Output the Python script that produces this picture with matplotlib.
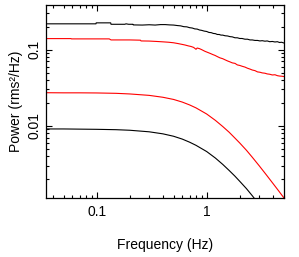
import matplotlib
matplotlib.use("Agg")
import matplotlib.pyplot as plt
from matplotlib.ticker import LogLocator, NullFormatter, FixedLocator, FixedFormatter

plt.rcParams['font.family'] = ['Liberation Sans', 'DejaVu Sans']

# noisy black PSD
f_black_noisy = [0.0346, 0.0985, 0.099, 0.134, 0.135, 0.18, 0.185, 0.195, 0.214, 0.215,
                 0.26, 0.30, 0.34, 0.38, 0.42, 0.46, 0.50, 0.54, 0.58, 0.62,
                 0.66, 0.70, 0.74, 0.78, 0.82, 0.86, 0.90, 0.95, 1.00, 1.05,
                 1.10, 1.15, 1.20, 1.25, 1.30, 1.35, 1.40, 1.47, 1.55, 1.63,
                 1.71, 1.81, 1.90, 2.00, 2.10, 2.23, 2.35, 2.48, 2.60, 2.75,
                 2.90, 3.05, 3.20, 3.39, 3.55, 3.75, 3.95, 4.18, 4.40, 4.60,
                 4.80, 5.05]
p_black_noisy = [0.218, 0.218, 0.2245, 0.2245, 0.215, 0.215, 0.218, 0.215, 0.215, 0.211,
                 0.210, 0.212, 0.210, 0.213, 0.213, 0.211, 0.210, 0.207, 0.205, 0.200,
                 0.199, 0.194, 0.192, 0.187, 0.186, 0.181, 0.179, 0.175, 0.173, 0.168,
                 0.167, 0.163, 0.162, 0.158, 0.158, 0.155, 0.155, 0.152, 0.151, 0.148,
                 0.147, 0.143, 0.143, 0.140, 0.140, 0.137, 0.137, 0.134, 0.134, 0.132,
                 0.132, 0.130, 0.131, 0.129, 0.130, 0.127, 0.128, 0.126, 0.127, 0.124,
                 0.125, 0.122]

# noisy red PSD
f_red_noisy = [0.0346, 0.0584, 0.059, 0.13, 0.135, 0.20, 0.25, 0.253, 0.30, 0.35,
               0.40, 0.45, 0.50, 0.55, 0.60, 0.635, 0.68, 0.72, 0.76, 0.78,
               0.80, 0.82, 0.86, 0.90, 0.965, 1.02, 1.08, 1.14, 1.19, 1.25,
               1.32, 1.40, 1.47, 1.55, 1.63, 1.71, 1.81, 1.90, 2.00, 2.10,
               2.23, 2.35, 2.48, 2.60, 2.75, 2.90, 3.05, 3.20, 3.39, 3.55,
               3.75, 3.95, 4.18, 4.40, 4.60, 4.80, 5.05]
p_red_noisy = [0.1395, 0.1395, 0.1383, 0.1383, 0.134, 0.134, 0.133, 0.130, 0.1295, 0.128,
               0.1265, 0.125, 0.123, 0.120, 0.117, 0.115, 0.112, 0.110, 0.107, 0.104,
               0.101, 0.105, 0.103, 0.100, 0.095, 0.092, 0.089, 0.086, 0.084, 0.081,
               0.078, 0.076, 0.0735, 0.071, 0.069, 0.067, 0.066, 0.063, 0.062, 0.0605,
               0.059, 0.057, 0.0555, 0.054, 0.053, 0.051, 0.0505, 0.0495, 0.049, 0.048,
               0.0475, 0.0465, 0.0468, 0.0455, 0.045, 0.0448, 0.0443]

# smooth model curves
f_model = [0.0346, 0.05, 0.07, 0.1, 0.15, 0.2, 0.3, 0.4, 0.5, 0.6,
           0.7, 0.8, 1.0, 1.2, 1.4, 1.6, 1.8, 2.0, 2.3, 2.6,
           3.0, 3.5, 4.0, 4.5, 5.05]
p_red_model = [0.0272, 0.0271, 0.0271, 0.0270, 0.0267, 0.0262, 0.0251, 0.0237, 0.0222, 0.0205,
               0.0188, 0.0172, 0.0143, 0.0118, 0.0098, 0.00825, 0.00695, 0.00595, 0.00478, 0.00387,
               0.00300, 0.00226, 0.00176, 0.00141, 0.00113]
p_black_model = [0.0091, 0.0091, 0.00905, 0.0090, 0.0089, 0.00875, 0.00835, 0.00785, 0.0073, 0.0067,
                 0.0061, 0.00555, 0.00460, 0.00378, 0.00312, 0.00260, 0.00220, 0.00187, 0.00150, 0.00121,
                 0.00093, 0.00069, 0.00053, 0.00042, 0.00034]

x_ticks = [0.1, 1]
x_labels = ["0.1", "1"]
y_ticks = [0.01, 0.1]
y_labels = ["0.01", "0.1"]

fig = plt.figure(figsize=(2.99, 2.57), dpi=100)
ax = fig.add_axes([46/299, 1-198/257, (284-46)/299, (198-5)/257])

ax.plot(f_black_noisy, p_black_noisy, color='black', lw=0.8)
ax.plot(f_red_noisy, p_red_noisy, color='#ff0000', lw=0.8)
ax.plot(f_model, p_red_model, color='#ff0000', lw=0.8)
ax.plot(f_model, p_black_model, color='black', lw=0.8)

ax.set_xscale('log')
ax.set_yscale('log')
ax.set_xlim(0.0346, 5.05)
ax.set_ylim(0.00113, 0.385)

ax.xaxis.set_major_locator(FixedLocator(x_ticks))
ax.xaxis.set_major_formatter(FixedFormatter(x_labels))
ax.yaxis.set_major_locator(FixedLocator(y_ticks))
ax.yaxis.set_major_formatter(FixedFormatter(y_labels))
ax.xaxis.set_minor_locator(LogLocator(base=10, subs=range(2, 10)))
ax.yaxis.set_minor_locator(LogLocator(base=10, subs=range(2, 10)))
ax.xaxis.set_minor_formatter(NullFormatter())
ax.yaxis.set_minor_formatter(NullFormatter())

ax.tick_params(which='both', direction='in', top=True, right=True, width=0.8, labelsize=10)
ax.tick_params(which='major', length=4)
ax.tick_params(which='minor', length=2.2)
ax.tick_params(axis='x', pad=5)
for lab in ax.get_yticklabels():
    lab.set_rotation(90)
    lab.set_va('center')
for s in ax.spines.values():
    s.set_linewidth(0.9)

ax.set_xlabel('Frequency (Hz)', fontsize=10, labelpad=14)
ax.set_ylabel('Power (rms²/Hz)', fontsize=10, labelpad=3)

fig.savefig('out.png', dpi=100)
